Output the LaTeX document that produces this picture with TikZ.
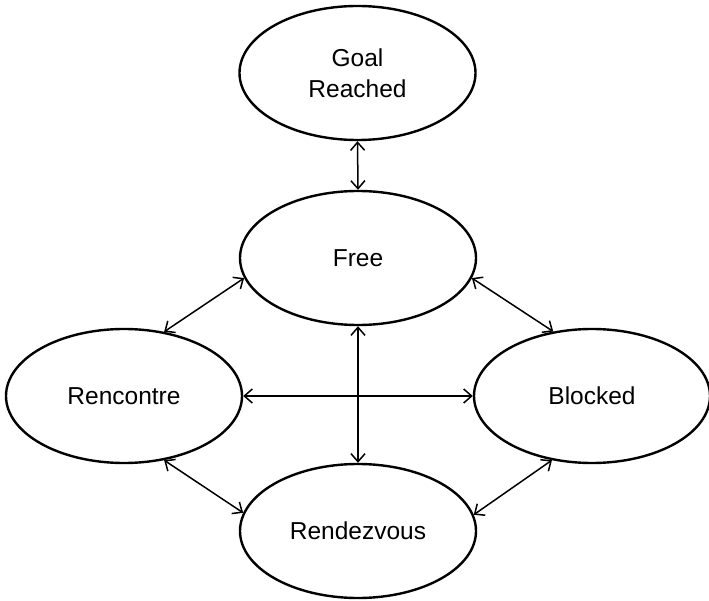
\documentclass[tikz,border=0pt]{standalone}
\usepackage{fontspec}
\setmainfont{Liberation Sans}
\usetikzlibrary{shapes.geometric,arrows.meta}
\begin{document}
\begin{tikzpicture}[x=1pt,y=-1pt,
  state/.style={ellipse,draw,line width=2.4pt,minimum width=236pt,minimum height=134pt,inner sep=0pt,
    font=\fontsize{24.5pt}{31pt}\selectfont,align=center},
  link/.style={line width=1.5pt,{Straight Barb[length=8pt,width=14pt,line width=1.5pt]}-{Straight Barb[length=8pt,width=14pt,line width=1.5pt]}}]
\useasboundingbox (0,0) rectangle (709,601);
\node[state] (goal) at (357.5,73) {Goal\\Reached};
\node[state] (free) at (358,258) {Free};
\node[state] (renc) at (124,396) {Rencontre};
\node[state] (block) at (592,396) {Blocked};
\node[state] (rdv) at (358,531) {Rendezvous};
\draw[link] (goal.south) -- (free.north);
\draw[link] (free.190) -- (renc.58);
\draw[link] (free.350) -- (block.121.6);
\draw[link] (renc.east) -- (block.west);
\draw[link] (free.south) -- (rdv.north);
\draw[link] (renc.302) -- (rdv.171);
\draw[link] (block.238.4) -- (rdv.8.4);
\end{tikzpicture}
\end{document}
